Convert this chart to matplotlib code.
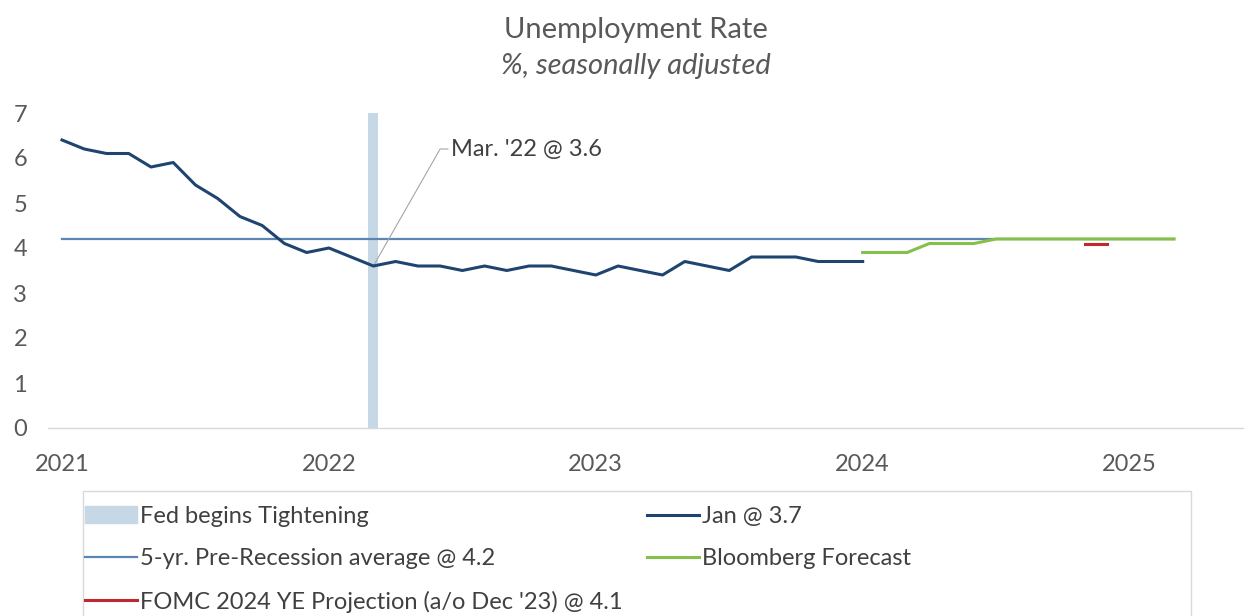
import matplotlib.pyplot as plt
from matplotlib.patches import Patch, Rectangle

plt.rcParams['font.family'] = ['Lato', 'DejaVu Sans']

# monthly unemployment rate, Jan 2021 .. Jan 2024
unemp = [6.4, 6.2, 6.1, 6.1, 5.8, 5.9, 5.4, 5.1, 4.7, 4.5, 4.1, 3.9,
         4.0, 3.8, 3.6, 3.7, 3.6, 3.6, 3.5, 3.6, 3.5, 3.6, 3.6, 3.5,
         3.4, 3.6, 3.5, 3.4, 3.7, 3.6, 3.5, 3.8, 3.8, 3.8, 3.7, 3.7,
         3.7]
# Bloomberg forecast, Jan 2024 .. Mar 2025
bbg = [3.9, 3.9, 3.9, 4.1, 4.1, 4.1, 4.2, 4.2, 4.2, 4.2, 4.2, 4.2, 4.2, 4.2, 4.2]
bbg_start = 36
# FOMC 2024 year-end projection (Nov, Dec 2024)
fomc = [4.1, 4.1]
fomc_start = 46
# 5-yr pre-recession average
avg = 4.2
avg_span = [0, 50]
fed_month = 14          # Mar 2022
year_ticks = [0, 12, 24, 36, 48]
year_labels = ['2021', '2022', '2023', '2024', '2025']

grey = '#595959'
navy = '#1F4470'
steel = '#5B86B3'
green = '#84C04A'
red = '#C0282F'
barc = '#C6D7E6'

fig = plt.figure(figsize=(12.54, 6.16), dpi=100)
ax = fig.add_axes([48 / 1254, 1 - 428 / 616, (1243 - 48) / 1254, 315 / 616])

x_unemp = list(range(len(unemp)))
x_bbg = list(range(bbg_start, bbg_start + len(bbg)))
x_fomc = list(range(fomc_start, fomc_start + len(fomc)))

ax.axvspan(fed_month - 0.23, fed_month + 0.23, color=barc, lw=0, zorder=1)
h_avg, = ax.plot(avg_span, [avg, avg], color=steel, lw=1.6, zorder=2)
h_un, = ax.plot(x_unemp, unemp, color=navy, lw=2.2, zorder=3)
h_bbg, = ax.plot(x_bbg, bbg, color=green, lw=2.2, zorder=4)
h_fomc, = ax.plot(x_fomc, fomc, color=red, lw=2.2, zorder=4)

# callout for Mar '22
ax.plot([x_unemp[fed_month], 17.0, 17.35], [unemp[fed_month], 6.2, 6.2],
        color='#A6A6A6', lw=0.8, zorder=2)
ax.text(17.5, 6.18, "Mar. '22 @ 3.6", fontsize=17, color='#404040',
        va='center', ha='left')

ax.set_xlim(-0.63, 53.1)
ax.set_ylim(0, 7)
ax.set_xticks(year_ticks)
ax.set_xticklabels(year_labels)
ax.set_yticks(range(0, 8))
ax.tick_params(axis='both', length=0, labelsize=17, labelcolor=grey)
ax.tick_params(axis='x', pad=19)
ax.tick_params(axis='y', pad=15)
for s in ['top', 'right', 'left']:
    ax.spines[s].set_visible(False)
ax.spines['bottom'].set_color('#D9D9D9')
ax.spines['bottom'].set_linewidth(1)

fig.text(0.507, 1 - 30 / 616, 'Unemployment Rate', ha='center', va='center',
         fontsize=21, color=grey)
fig.text(0.507, 1 - 66 / 616, '%, seasonally adjusted', ha='center',
         va='center', fontsize=21, color=grey, style='italic')

handles = [Patch(color=barc), h_avg, h_fomc, h_un, h_bbg]
labels = ['Fed begins Tightening', '5-yr. Pre-Recession average @ 4.2',
          "FOMC 2024 YE Projection (a/o Dec '23) @ 4.1", 'Jan @ 3.7',
          'Bloomberg Forecast']
fig.legend(handles, labels, ncol=2, loc='upper left',
           bbox_to_anchor=(85 / 1254, 1 - 506 / 616), frameon=False,
           fontsize=17, borderpad=0, borderaxespad=0, handlelength=2.2,
           handletextpad=0.15, columnspacing=1.0, labelspacing=0.9,
           labelcolor='#404040')
fig.add_artist(Rectangle((83 / 1254, -0.05), 1108 / 1254, 0.05 + 1 - 491 / 616,
                         transform=fig.transFigure, fill=False,
                         edgecolor='#D9D9D9', lw=1))

fig.savefig('out.png', dpi=100)
